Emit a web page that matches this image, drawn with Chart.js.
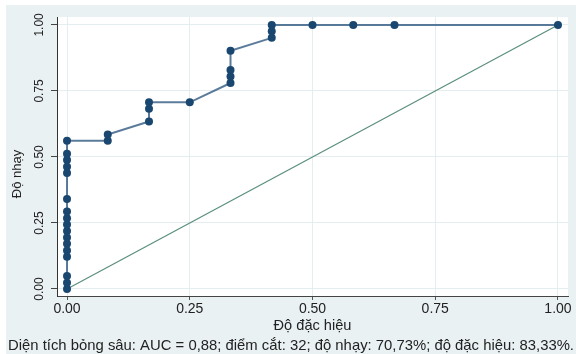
<!DOCTYPE html>
<html lang="vi">
<head>
<meta charset="UTF-8">
<script src="https://cdn.jsdelivr.net/npm/chart.js@4.4.1/dist/chart.umd.min.js"></script>
<title>ROC</title>
<style>
    html, body { margin: 0; padding: 0; background: #fff; }
    #wrap { width: 576px; height: 354px; position: relative; }
</style>
</head>
<body>
<div id="wrap"><canvas id="roc"></canvas></div>
<script>
    // 1 - dac hieu (x) va do nhay (y) cua duong ROC
    const fpr = [0, 0, 0, 0, 0, 0, 0, 0, 0, 0, 0, 0, 0, 0, 0, 0, 0,
        0.083, 0.083, 0.167, 0.167, 0.167, 0.25,
        0.333, 0.333, 0.333, 0.333, 0.417, 0.417, 0.417,
        0.5, 0.583, 0.667, 1];
    const sens = [0, 0.024, 0.049, 0.122, 0.146, 0.171, 0.195, 0.22, 0.244, 0.268, 0.293, 0.341, 0.439, 0.463, 0.488, 0.512, 0.561,
        0.561, 0.585, 0.634, 0.683, 0.707, 0.707,
        0.78, 0.805, 0.829, 0.902, 0.951, 0.976, 1,
        1, 1, 1, 1];
    // duong tham chieu
    const refX = [0, 1];
    const refY = [0, 1];

    const tickValues = [0, 0.25, 0.5, 0.75, 1];
    const tickLabels = ['0.00', '0.25', '0.50', '0.75', '1.00'];

    const xTitle = 'Độ đặc hiệu';
    const yTitle = 'Độ nhạy';
    const note = 'Diện tích bỏng sâu: AUC = 0,88; điểm cắt: 32; độ nhạy: 70,73%; độ đặc hiệu: 83,33%.';

    const FONT = '"Liberation Sans", Arial, sans-serif';
    const TEXT = '#222';

    const frame = {
        id: 'frame',
        beforeDraw(chart) {
            const { ctx, chartArea: a, width, height } = chart;
            ctx.save();
            ctx.fillStyle = '#fff';
            ctx.fillRect(0, 0, width, height);
            ctx.fillStyle = '#eaf1f3';
            ctx.fillRect(6, 5, width - 6, height - 5);
            ctx.fillStyle = '#fff';
            ctx.fillRect(a.left, a.top, a.right - a.left, a.bottom - a.top);
            ctx.restore();
        },
        afterDraw(chart) {
            const { ctx, chartArea: a } = chart;
            const xs = chart.scales.x, ys = chart.scales.y;
            ctx.save();
            ctx.fillStyle = TEXT;
            ctx.textAlign = 'center';
            ctx.textBaseline = 'middle';
            // nhan truc y (xoay doc)
            ctx.font = '12px ' + FONT;
            tickValues.forEach((v, i) => {
                ctx.save();
                ctx.translate(40, ys.getPixelForValue(v));
                ctx.rotate(-Math.PI / 2);
                ctx.fillText(tickLabels[i], 0, 0);
                ctx.restore();
            });
            ctx.font = '13px ' + FONT;
            ctx.save();
            ctx.translate(17, 174);
            ctx.rotate(-Math.PI / 2);
            ctx.fillText(yTitle, 0, 0);
            ctx.restore();
            // nhan truc x
            ctx.font = '14px ' + FONT;
            tickValues.forEach((v, i) => {
                ctx.fillText(tickLabels[i], xs.getPixelForValue(v), 309);
            });
            ctx.font = '14.6px ' + FONT;
            ctx.fillText(xTitle, (a.left + a.right) / 2, 326);
            // ghi chu: keo gian cho vua 8..574
            ctx.font = '14.4px ' + FONT;
            ctx.textAlign = 'left';
            const w = ctx.measureText(note).width;
            ctx.translate(8, 346);
            ctx.scale(566 / w, 1);
            ctx.fillText(note, 0, 0);
            ctx.restore();
        }
    };

    const setTicks = scale => {
        scale.ticks = tickValues.map(v => ({ value: v }));
    };

    const ctx = document.getElementById('roc').getContext('2d');
    const chart = new Chart(ctx, {
        type: 'scatter',
        data: {
            datasets: [{
                data: fpr.map((x, i) => ({ x: x, y: sens[i] })),
                showLine: true,
                borderColor: 'rgba(50, 90, 130, 0.8)',
                borderWidth: 2,
                backgroundColor: '#1a476f',
                pointBorderColor: '#1a476f',
                pointRadius: 4,
                pointBorderWidth: 0
            }, {
                data: refX.map((x, i) => ({ x: x, y: refY[i] })),
                showLine: true,
                borderColor: '#5a8f7b',
                borderWidth: 1.2,
                pointRadius: 0
            }]
        },
        plugins: [frame],
        options: {
            responsive: true,
            maintainAspectRatio: false,
            animation: false,
            layout: { padding: { left: 0, right: 8, top: 17, bottom: 0 } },
            plugins: { legend: { display: false }, tooltip: { enabled: false } },
            scales: {
                x: {
                    type: 'linear',
                    min: -0.0204,
                    max: 1.0204,
                    afterBuildTicks: setTicks,
                    afterFit: s => { s.height = 58; },
                    border: { color: '#444', width: 1 },
                    grid: { color: '#e4edf0', tickColor: '#555', tickLength: 4 },
                    ticks: { display: false }
                },
                y: {
                    type: 'linear',
                    min: -0.0266,
                    max: 1.030,
                    afterBuildTicks: setTicks,
                    afterFit: s => { s.width = 57; },
                    border: { color: '#333', width: 1 },
                    grid: { color: '#e4edf0', tickColor: '#444', tickLength: 6 },
                    ticks: { display: false }
                }
            }
        }
    });
</script>
</body>
</html>
